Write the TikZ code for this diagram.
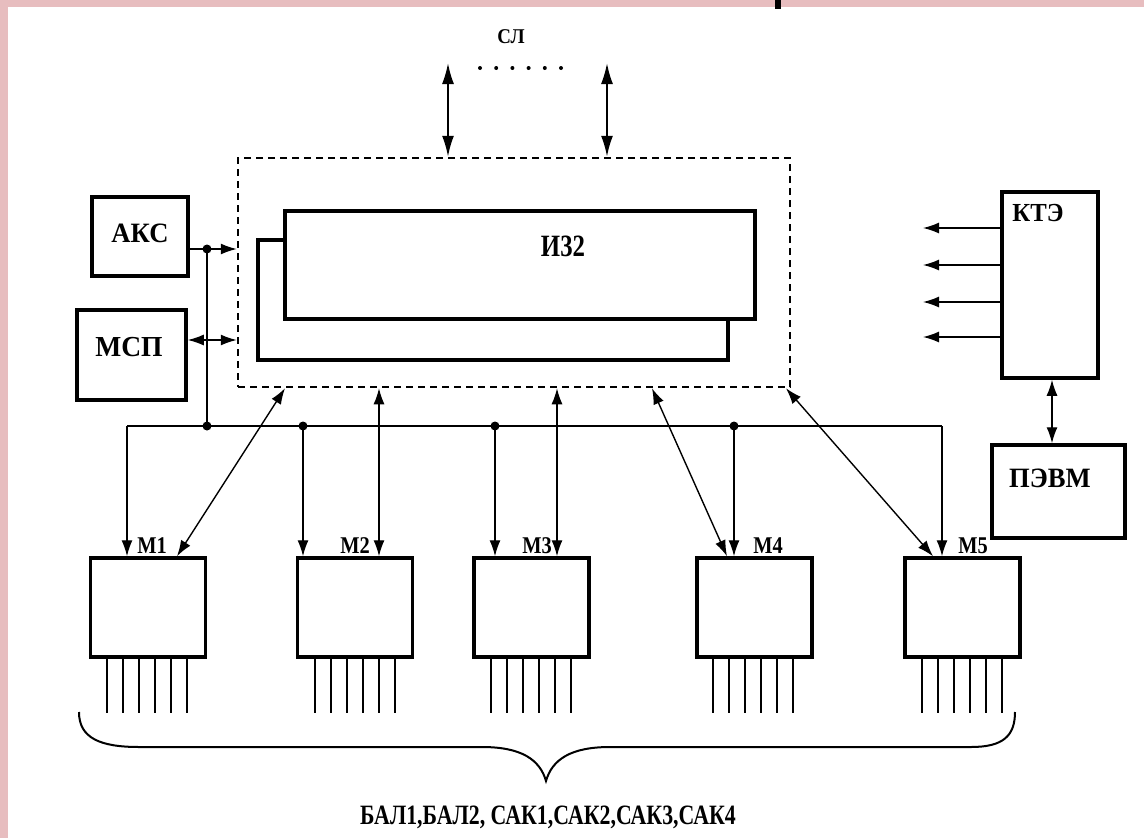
\documentclass[tikz,border=0pt]{standalone}
\usepackage{fontspec}
\setmainfont{Liberation Serif}
\usepackage{graphicx}
\usetikzlibrary{arrows.meta,calc}
\definecolor{pinkbg}{RGB}{231,189,191}
\newcommand\lbltext[3]{\scalebox{#1}[1]{\fontsize{#2}{#2}\selectfont\bfseries #3}}
\begin{document}
\begin{tikzpicture}[x=1pt,y=-1pt,
  box/.style={draw, line width=3.5pt, fill=white, inner sep=0pt},
  dbox/.style={draw, line width=2.5pt, dash pattern=on 7pt off 5pt, inner sep=0pt},
  lbl/.style={inner sep=0pt},
  conn/.style={line width=1.4pt},
  arr/.style={line width=1.4pt, -{Latex[length=16pt,width=11pt]}},
  darr/.style={line width=1.4pt, {Latex[length=16pt,width=11pt]}-{Latex[length=16pt,width=11pt]}},
  sarr/.style={line width=2pt, {Latex[length=21pt,width=12pt]}-{Latex[length=21pt,width=12pt]}},
  dot/.style={circle, fill, inner sep=0pt, minimum size=9pt},
  lead/.style={line width=1.4pt}
]
\useasboundingbox (0,0) rectangle (1144,838);
\fill[pinkbg] (0,0) rectangle (1144,838);
\fill[white] (8,7) rectangle (1144,838);
\fill[black] (775,0) rectangle (781,9);

% top label and dots
\node[lbl] (sl) at (511,37) {\lbltext{0.9}{21}{СЛ}};
\foreach \i in {0,...,5} {\fill (480+16.2*\i,68) circle (2pt);}

% dashed frame and inner blocks
\node[dbox, minimum width=552pt, minimum height=229pt] (dash) at (514,272.5) {};
\node[box, minimum width=470pt, minimum height=120pt] (back) at (493,300) {};
\node[box, minimum width=470pt, minimum height=108pt] (front) at (520,265) {};
\node[lbl] (ti32) at (563,246) {\lbltext{0.8}{31}{И32}};

% SL arrows
\coordinate (sl1) at (448,63);
\coordinate (sl2) at (607,63);
\draw[sarr] (sl1) -- (sl1 |- dash.north);
\draw[sarr] (sl2) -- (sl2 |- dash.north);

% left blocks
\node[box, minimum width=96pt, minimum height=79pt] (aks) at (140,236.5) {};
\node[lbl] (taks) at (140,233) {\lbltext{0.95}{28}{АКС}};
\node[box, minimum width=109pt, minimum height=90pt] (msp) at (131.5,355) {};
\node[lbl] (tmsp) at (129,347) {\lbltext{0.95}{29}{МСП}};

\coordinate (jA) at (207,249);
\coordinate (jM) at (186,340);
\draw[conn] (aks.east |- jA) -- (jA);
\draw[arr] (jA) -- (dash.west |- jA);
\draw[darr] (msp.east |- jM) -- (dash.west |- jM);

% bus
\coordinate (bL) at (127,426);
\coordinate (bR) at (942,426);
\coordinate (j1) at (207,426);
\coordinate (j2) at (303,426);
\coordinate (j3) at (495,426);
\coordinate (j4) at (734,426);
\draw[conn] (jA) -- (j1);
\draw[conn] (bL) -- (bR);

% modules
\foreach \n/\cx in {m1/148, m2/355, m3/531.5, m4/754.5, m5/962.5}
  {\node[box, minimum width=115pt, minimum height=99pt] (\n) at (\cx,607.5) {};}

\draw[arr] (bL) -- (bL |- m1.north);
\draw[arr] (bR) -- (bR |- m5.north);
\draw[arr] (j2) -- (j2 |- m2.north);
\draw[arr] (j3) -- (j3 |- m3.north);
\draw[arr] (j4) -- (j4 |- m4.north);

\node[dot] at (jA) {};
\node[dot] at (j1) {};
\node[dot] at (j2) {};
\node[dot] at (j3) {};
\node[dot] at (j4) {};

% frame <-> module arrows
\coordinate (d1) at (285,0); \coordinate (e1) at (177,0);
\coordinate (d2) at (379,0);
\coordinate (d3) at (557,0);
\coordinate (d4) at (652,0); \coordinate (e4) at (727,0);
\coordinate (d5) at (786,0); \coordinate (e5) at (933,0);
\draw[darr] (dash.south -| d1) -- (m1.north -| e1);
\draw[darr] (dash.south -| d2) -- (m2.north -| d2);
\draw[darr] (dash.south -| d3) -- (m3.north -| d3);
\draw[darr] (dash.south -| d4) -- (m4.north -| e4);
\draw[darr] (dash.south -| d5) -- (m5.north -| e5);

% module labels
\node[lbl] (tm1) at (152,546) {\lbltext{0.85}{24}{М1}};
\node[lbl] (tm2) at (355,546) {\lbltext{0.85}{24}{М2}};
\node[lbl] (tm3) at (537,546) {\lbltext{0.85}{24}{М3}};
\node[lbl] (tm4) at (768,546) {\lbltext{0.85}{24}{М4}};
\node[lbl] (tm5) at (973,546) {\lbltext{0.85}{24}{М5}};

% output leads
\foreach \xs in {107,315,491,713,922}
  {\foreach \k in {0,...,5} {\draw[lead] (\xs+16*\k,657) -- (\xs+16*\k,713);}}

% brace
\draw[line width=2pt] (79,712) .. controls (79,738) and (100,747) .. (139,747)
  -- (482,747) .. controls (522,747) and (540,760) .. (546,781)
  .. controls (552,760) and (570,747) .. (610,747)
  -- (971,747) .. controls (1003,747) and (1015,736) .. (1015,712);
\node[lbl] (tbal) at (548,817) {\lbltext{0.78}{28}{БАЛ1,БАЛ2, САК1,САК2,САК3,САК4}};

% right side
\node[box, minimum width=96pt, minimum height=186pt] (kte) at (1050,285) {};
\node[lbl] (tkte) at (1038,213) {\lbltext{0.95}{26}{КТЭ}};
\foreach \yy/\nm in {228/o1, 265/o2, 302/o3, 337/o4}
  {\coordinate (\nm) at (923,\yy); \draw[arr] (kte.west |- \nm) -- (\nm);}
\node[box, minimum width=133pt, minimum height=93pt] (pevm) at (1058.5,491.5) {};
\node[lbl] (tpevm) at (1050,478) {\lbltext{0.95}{28}{ПЭВМ}};
\coordinate (kx) at (1052,0);
\draw[darr] (kte.south -| kx) -- (pevm.north -| kx);
\end{tikzpicture}
\end{document}
